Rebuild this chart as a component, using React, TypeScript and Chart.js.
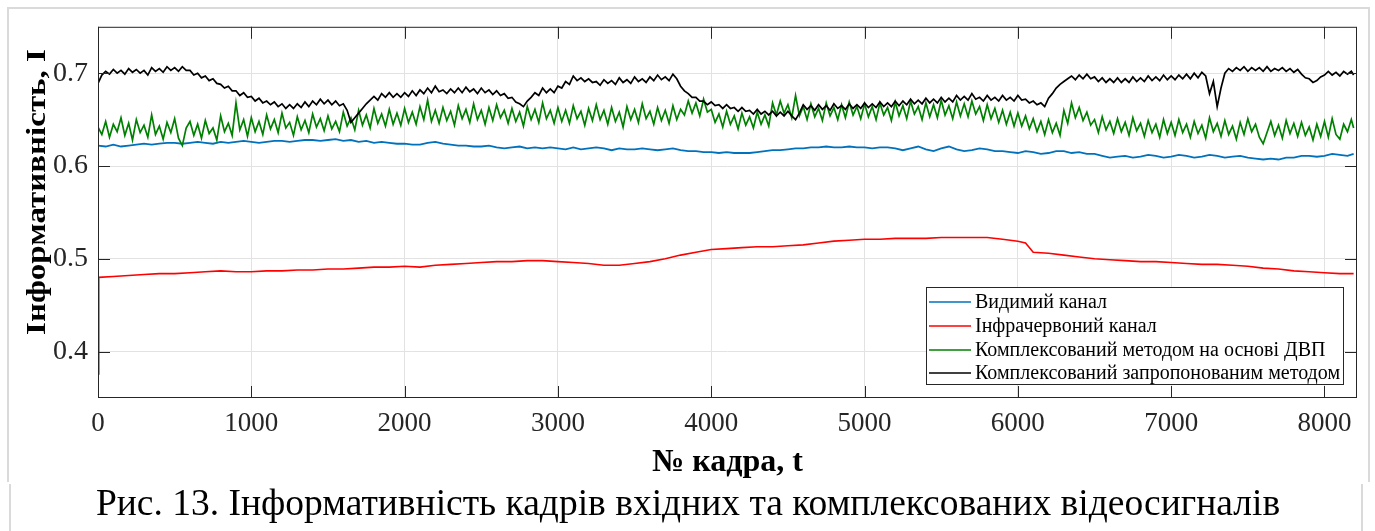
import React, { useEffect, useRef } from "react";
import { Chart, registerables } from "chart.js";

Chart.register(...registerables);

const FRAMES_25 = [
  0, 25, 50, 75, 100, 125, 150, 175, 200, 225, 250, 275, 300, 325, 350, 375, 400, 425, 450, 475, 500, 525, 550, 575, 600, 625, 650, 675, 700, 725, 750, 775, 800, 825, 850, 875, 900, 925, 950, 975,
  1000, 1025, 1050, 1075, 1100, 1125, 1150, 1175, 1200, 1225, 1250, 1275, 1300, 1325, 1350, 1375, 1400, 1425, 1450, 1475, 1500, 1525, 1550, 1575, 1600, 1625, 1650, 1675, 1700, 1725, 1750, 1775, 1800, 1825, 1850, 1875, 1900, 1925, 1950, 1975,
  2000, 2025, 2050, 2075, 2100, 2125, 2150, 2175, 2200, 2225, 2250, 2275, 2300, 2325, 2350, 2375, 2400, 2425, 2450, 2475, 2500, 2525, 2550, 2575, 2600, 2625, 2650, 2675, 2700, 2725, 2750, 2775, 2800, 2825, 2850, 2875, 2900, 2925, 2950, 2975,
  3000, 3025, 3050, 3075, 3100, 3125, 3150, 3175, 3200, 3225, 3250, 3275, 3300, 3325, 3350, 3375, 3400, 3425, 3450, 3475, 3500, 3525, 3550, 3575, 3600, 3625, 3650, 3675, 3700, 3725, 3750, 3775, 3800, 3825, 3850, 3875, 3900, 3925, 3950, 3975,
  4000, 4025, 4050, 4075, 4100, 4125, 4150, 4175, 4200, 4225, 4250, 4275, 4300, 4325, 4350, 4375, 4400, 4425, 4450, 4475, 4500, 4525, 4550, 4575, 4600, 4625, 4650, 4675, 4700, 4725, 4750, 4775, 4800, 4825, 4850, 4875, 4900, 4925, 4950, 4975,
  5000, 5025, 5050, 5075, 5100, 5125, 5150, 5175, 5200, 5225, 5250, 5275, 5300, 5325, 5350, 5375, 5400, 5425, 5450, 5475, 5500, 5525, 5550, 5575, 5600, 5625, 5650, 5675, 5700, 5725, 5750, 5775, 5800, 5825, 5850, 5875, 5900, 5925, 5950, 5975,
  6000, 6025, 6050, 6075, 6100, 6125, 6150, 6175, 6200, 6225, 6250, 6275, 6300, 6325, 6350, 6375, 6400, 6425, 6450, 6475, 6500, 6525, 6550, 6575, 6600, 6625, 6650, 6675, 6700, 6725, 6750, 6775, 6800, 6825, 6850, 6875, 6900, 6925, 6950, 6975,
  7000, 7025, 7050, 7075, 7100, 7125, 7150, 7175, 7200, 7225, 7250, 7275, 7300, 7325, 7350, 7375, 7400, 7425, 7450, 7475, 7500, 7525, 7550, 7575, 7600, 7625, 7650, 7675, 7700, 7725, 7750, 7775, 7800, 7825, 7850, 7875, 7900, 7925, 7950, 7975,
  8000, 8025, 8050, 8075, 8100, 8125, 8150, 8175, 8190,
];

const FRAMES_50 = [
  0, 50, 100, 150, 200, 250, 300, 350, 400, 450, 500, 550, 600, 650, 700, 750, 800, 850, 900, 950,
  1000, 1050, 1100, 1150, 1200, 1250, 1300, 1350, 1400, 1450, 1500, 1550, 1600, 1650, 1700, 1750, 1800, 1850, 1900, 1950,
  2000, 2050, 2100, 2150, 2200, 2250, 2300, 2350, 2400, 2450, 2500, 2550, 2600, 2650, 2700, 2750, 2800, 2850, 2900, 2950,
  3000, 3050, 3100, 3150, 3200, 3250, 3300, 3350, 3400, 3450, 3500, 3550, 3600, 3650, 3700, 3750, 3800, 3850, 3900, 3950,
  4000, 4050, 4100, 4150, 4200, 4250, 4300, 4350, 4400, 4450, 4500, 4550, 4600, 4650, 4700, 4750, 4800, 4850, 4900, 4950,
  5000, 5050, 5100, 5150, 5200, 5250, 5300, 5350, 5400, 5450, 5500, 5550, 5600, 5650, 5700, 5750, 5800, 5850, 5900, 5950,
  6000, 6050, 6100, 6150, 6200, 6250, 6300, 6350, 6400, 6450, 6500, 6550, 6600, 6650, 6700, 6750, 6800, 6850, 6900, 6950,
  7000, 7050, 7100, 7150, 7200, 7250, 7300, 7350, 7400, 7450, 7500, 7550, 7600, 7650, 7700, 7750, 7800, 7850, 7900, 7950,
  8000, 8050, 8100, 8150, 8190,
];

const RED_FRAMES = [
  0, 5, 100, 200, 300, 400, 500, 600, 700, 800, 900,
  1000, 1100, 1200, 1300, 1400, 1500, 1600, 1700, 1800, 1900,
  2000, 2100, 2200, 2300, 2400, 2500, 2600, 2700, 2800, 2900,
  3000, 3100, 3200, 3300, 3400, 3500, 3600, 3700, 3800, 3900,
  4000, 4100, 4200, 4300, 4400, 4500, 4600, 4700, 4800, 4900,
  5000, 5100, 5200, 5300, 5400, 5500, 5600, 5700, 5800, 5900,
  6000, 6050, 6100, 6200, 6300, 6400, 6500, 6600, 6700, 6800, 6900,
  7000, 7100, 7200, 7300, 7400, 7500, 7600, 7700, 7800, 7900,
  8000, 8100, 8190,
];

const X_TICKS = [0, 1000, 2000, 3000, 4000, 5000, 6000, 7000, 8000];
const Y_TICKS = [0.4, 0.5, 0.6, 0.7];

const VISIBLE = [
  0.622, 0.621, 0.623, 0.621, 0.622, 0.623, 0.624, 0.623, 0.624, 0.625, 0.625, 0.624, 0.625, 0.626, 0.625, 0.624, 0.626, 0.625, 0.626, 0.627,
  0.626, 0.625, 0.626, 0.627, 0.627, 0.626, 0.627, 0.628, 0.628, 0.627, 0.628, 0.629, 0.627, 0.628, 0.626, 0.627, 0.625, 0.626, 0.625, 0.624,
  0.624, 0.623, 0.623, 0.625, 0.626, 0.624, 0.623, 0.622, 0.622, 0.621, 0.621, 0.622, 0.620, 0.619, 0.620, 0.621, 0.619, 0.620, 0.619, 0.620,
  0.619, 0.618, 0.620, 0.618, 0.619, 0.620, 0.619, 0.617, 0.619, 0.618, 0.618, 0.619, 0.618, 0.617, 0.618, 0.619, 0.617, 0.616, 0.616, 0.615,
  0.615, 0.614, 0.615, 0.614, 0.614, 0.614, 0.615, 0.616, 0.617, 0.617, 0.618, 0.619, 0.619, 0.620, 0.620, 0.621, 0.620, 0.620, 0.621, 0.620,
  0.620, 0.619, 0.620, 0.620, 0.619, 0.617, 0.619, 0.621, 0.618, 0.616, 0.619, 0.621, 0.618, 0.616, 0.617, 0.619, 0.618, 0.616, 0.616, 0.615,
  0.614, 0.616, 0.615, 0.613, 0.614, 0.616, 0.616, 0.614, 0.615, 0.613, 0.613, 0.611, 0.609, 0.610, 0.611, 0.609, 0.610, 0.612, 0.611, 0.609,
  0.610, 0.612, 0.611, 0.609, 0.610, 0.612, 0.611, 0.609, 0.610, 0.611, 0.609, 0.608, 0.607, 0.608, 0.607, 0.609, 0.609, 0.611, 0.611, 0.610,
  0.611, 0.613, 0.612, 0.611, 0.613,
];

const INFRARED = [
  0.376, 0.480, 0.481, 0.482, 0.483, 0.484, 0.484, 0.485, 0.486, 0.487, 0.486,
  0.486, 0.487, 0.487, 0.488, 0.488, 0.489, 0.489, 0.490, 0.491, 0.491,
  0.492, 0.491, 0.493, 0.494, 0.495, 0.496, 0.497, 0.497, 0.498, 0.498,
  0.497, 0.496, 0.495, 0.493, 0.493, 0.495, 0.497, 0.500, 0.504, 0.507,
  0.510, 0.511, 0.512, 0.513, 0.513, 0.514, 0.515, 0.517, 0.519, 0.520,
  0.521, 0.521, 0.522, 0.522, 0.522, 0.523, 0.523, 0.523, 0.523, 0.521,
  0.519, 0.517, 0.507, 0.506, 0.504, 0.502, 0.500, 0.499, 0.498, 0.497, 0.497,
  0.496, 0.495, 0.494, 0.494, 0.493, 0.492, 0.490, 0.489, 0.487, 0.486,
  0.485, 0.484, 0.484,
];

const DWT_FUSED = [
  0.642, 0.634, 0.648, 0.631, 0.645, 0.637, 0.652, 0.633, 0.646, 0.628, 0.650, 0.636, 0.644, 0.631, 0.655, 0.634, 0.643, 0.629, 0.647, 0.636,
  0.651, 0.630, 0.622, 0.641, 0.648, 0.633, 0.645, 0.630, 0.649, 0.635, 0.641, 0.628, 0.654, 0.637, 0.646, 0.633, 0.668, 0.639, 0.650, 0.632,
  0.652, 0.637, 0.648, 0.634, 0.655, 0.640, 0.650, 0.636, 0.657, 0.641, 0.647, 0.633, 0.653, 0.639, 0.649, 0.636, 0.656, 0.642, 0.651, 0.638,
  0.654, 0.640, 0.648, 0.637, 0.658, 0.643, 0.652, 0.639, 0.660, 0.644, 0.655, 0.641, 0.662, 0.646, 0.656, 0.643, 0.661, 0.645, 0.657, 0.644,
  0.662, 0.647, 0.658, 0.645, 0.664, 0.650, 0.671, 0.648, 0.660, 0.646, 0.663, 0.649, 0.659, 0.644, 0.665, 0.651, 0.661, 0.647, 0.667, 0.650,
  0.660, 0.645, 0.663, 0.649, 0.666, 0.652, 0.660, 0.646, 0.662, 0.648, 0.658, 0.643, 0.664, 0.650, 0.661, 0.647, 0.668, 0.651, 0.660, 0.646,
  0.663, 0.648, 0.660, 0.646, 0.665, 0.651, 0.659, 0.644, 0.662, 0.649, 0.666, 0.650, 0.660, 0.645, 0.663, 0.648, 0.658, 0.642, 0.664, 0.650,
  0.661, 0.647, 0.667, 0.651, 0.659, 0.645, 0.663, 0.649, 0.660, 0.646, 0.665, 0.650, 0.661, 0.655, 0.670, 0.657, 0.668, 0.654, 0.672, 0.658,
  0.661, 0.647, 0.656, 0.642, 0.659, 0.645, 0.654, 0.640, 0.657, 0.644, 0.653, 0.641, 0.658, 0.645, 0.655, 0.643, 0.668, 0.655, 0.670, 0.657,
  0.666, 0.652, 0.676, 0.654, 0.664, 0.650, 0.667, 0.653, 0.662, 0.649, 0.668, 0.654, 0.663, 0.650, 0.666, 0.652, 0.669, 0.655, 0.664, 0.651,
  0.667, 0.653, 0.664, 0.650, 0.668, 0.655, 0.663, 0.649, 0.669, 0.654, 0.665, 0.651, 0.670, 0.656, 0.664, 0.650, 0.668, 0.653, 0.666, 0.652,
  0.671, 0.655, 0.665, 0.651, 0.669, 0.654, 0.667, 0.653, 0.670, 0.656, 0.664, 0.649, 0.666, 0.651, 0.662, 0.647, 0.660, 0.645, 0.658, 0.643,
  0.657, 0.643, 0.654, 0.640, 0.651, 0.637, 0.648, 0.634, 0.650, 0.636, 0.646, 0.633, 0.660, 0.646, 0.668, 0.652, 0.663, 0.649, 0.658, 0.644,
  0.650, 0.636, 0.653, 0.639, 0.648, 0.635, 0.651, 0.637, 0.647, 0.633, 0.652, 0.638, 0.646, 0.632, 0.649, 0.636, 0.645, 0.631, 0.650, 0.635,
  0.647, 0.633, 0.650, 0.636, 0.645, 0.631, 0.648, 0.635, 0.644, 0.630, 0.652, 0.637, 0.646, 0.632, 0.649, 0.634, 0.643, 0.629, 0.647, 0.634,
  0.651, 0.637, 0.645, 0.631, 0.624, 0.636, 0.648, 0.633, 0.644, 0.630, 0.649, 0.635, 0.646, 0.632, 0.647, 0.633, 0.642, 0.628, 0.645, 0.632,
  0.648, 0.631, 0.651, 0.634, 0.629, 0.645, 0.637, 0.650, 0.641,
];

const PROPOSED_FUSED = [
  0.689, 0.698, 0.702, 0.699, 0.704, 0.700, 0.703, 0.699, 0.705, 0.701, 0.704, 0.700, 0.703, 0.698, 0.706, 0.702, 0.705, 0.701, 0.707, 0.703,
  0.706, 0.702, 0.707, 0.703, 0.703, 0.698, 0.700, 0.695, 0.697, 0.692, 0.694, 0.689, 0.688, 0.684, 0.686, 0.681, 0.681, 0.676, 0.679, 0.674,
  0.675, 0.670, 0.673, 0.668, 0.670, 0.666, 0.669, 0.664, 0.667, 0.662, 0.666, 0.662, 0.667, 0.663, 0.669, 0.664, 0.670, 0.666, 0.672, 0.667,
  0.671, 0.666, 0.670, 0.665, 0.667, 0.660, 0.647, 0.652, 0.657, 0.662, 0.667, 0.671, 0.675, 0.671, 0.678, 0.674, 0.679, 0.674, 0.678, 0.674,
  0.679, 0.675, 0.681, 0.676, 0.682, 0.678, 0.684, 0.679, 0.686, 0.680, 0.682, 0.678, 0.683, 0.679, 0.684, 0.679, 0.685, 0.680, 0.683, 0.678,
  0.684, 0.679, 0.682, 0.677, 0.681, 0.676, 0.678, 0.673, 0.674, 0.669, 0.667, 0.664, 0.670, 0.674, 0.679, 0.676, 0.684, 0.679, 0.683, 0.679,
  0.686, 0.684, 0.691, 0.688, 0.697, 0.692, 0.695, 0.691, 0.694, 0.690, 0.691, 0.687, 0.693, 0.689, 0.692, 0.688, 0.695, 0.690, 0.693, 0.689,
  0.696, 0.691, 0.694, 0.690, 0.696, 0.692, 0.698, 0.693, 0.696, 0.692, 0.699, 0.694, 0.686, 0.681, 0.678, 0.674, 0.674, 0.670, 0.670, 0.666,
  0.669, 0.665, 0.666, 0.662, 0.666, 0.662, 0.663, 0.659, 0.663, 0.659, 0.660, 0.656, 0.661, 0.656, 0.659, 0.655, 0.659, 0.654, 0.658, 0.654,
  0.659, 0.654, 0.650, 0.657, 0.666, 0.661, 0.665, 0.660, 0.666, 0.661, 0.665, 0.660, 0.667, 0.662, 0.665, 0.661, 0.667, 0.662, 0.666, 0.662,
  0.668, 0.663, 0.667, 0.663, 0.669, 0.664, 0.668, 0.664, 0.670, 0.665, 0.670, 0.666, 0.672, 0.667, 0.671, 0.667, 0.673, 0.668, 0.672, 0.668,
  0.674, 0.669, 0.673, 0.669, 0.676, 0.671, 0.675, 0.671, 0.678, 0.672, 0.674, 0.670, 0.676, 0.671, 0.674, 0.670, 0.676, 0.671, 0.674, 0.670,
  0.676, 0.671, 0.672, 0.668, 0.670, 0.666, 0.668, 0.664, 0.673, 0.678, 0.684, 0.688, 0.691, 0.694, 0.697, 0.693, 0.698, 0.694, 0.699, 0.694,
  0.696, 0.691, 0.695, 0.690, 0.694, 0.690, 0.695, 0.690, 0.694, 0.690, 0.696, 0.691, 0.695, 0.691, 0.697, 0.692, 0.696, 0.692, 0.698, 0.693,
  0.697, 0.693, 0.698, 0.694, 0.699, 0.694, 0.700, 0.695, 0.701, 0.697, 0.678, 0.691, 0.664, 0.684, 0.700, 0.705, 0.702, 0.706, 0.703, 0.707,
  0.702, 0.706, 0.703, 0.706, 0.702, 0.707, 0.702, 0.705, 0.703, 0.706, 0.702, 0.705, 0.701, 0.704, 0.699, 0.695, 0.694, 0.690, 0.692, 0.696,
  0.698, 0.702, 0.698, 0.701, 0.697, 0.702, 0.699, 0.702, 0.698,
];

const SERIES_LABELS = [
  "Видимий канал",
  "Інфрачервоний канал",
  "Комплексований методом на основі ДВП",
  "Комплексований запропонованим методом",
];
const SERIES_COLORS = ["#0072BD", "#FF0000", "#008000", "#000000"];

const X_TITLE = "№ кадра, t";
const Y_TITLE = "Інформативність, І";
const CAPTION = "Рис. 13. Інформативність кадрів вхідних та комплексованих відеосигналів";

const X_MIN = 0;
const X_MAX = 8212;
const Y_MIN = 0.35;
const Y_MAX = 0.75;

const FONT = "'Liberation Serif', 'Times New Roman', serif";

function toPoints(xs: number[], ys: number[]) {
  return xs.map((x, i) => ({ x, y: ys[i] }));
}

const decorPlugin = {
  id: "decor",
  beforeDraw(chart: any) {
    const ctx = chart.ctx;
    ctx.save();
    ctx.fillStyle = "#ffffff";
    ctx.fillRect(0, 0, chart.width, chart.height);
    ctx.strokeStyle = "#dadada";
    ctx.lineWidth = 2;
    ctx.beginPath();
    ctx.moveTo(8, 482);
    ctx.lineTo(8, 8);
    ctx.lineTo(1369, 8);
    ctx.lineTo(1369, 482);
    ctx.moveTo(10, 484);
    ctx.lineTo(10, 531);
    ctx.moveTo(1362, 484);
    ctx.lineTo(1362, 531);
    ctx.stroke();
    ctx.restore();
  },
  afterDatasetsDraw(chart: any) {
    const { ctx, chartArea: a, scales } = chart;
    ctx.save();
    ctx.strokeStyle = "#262626";
    ctx.lineWidth = 1;
    ctx.strokeRect(a.left + 0.5, a.top + 0.5, a.right - a.left - 1, a.bottom - a.top - 1);
    const TL = 12;
    ctx.beginPath();
    scales.x.ticks.forEach((t: any) => {
      const px = Math.round(scales.x.getPixelForValue(t.value)) + 0.5;
      ctx.moveTo(px, a.bottom);
      ctx.lineTo(px, a.bottom - TL);
      ctx.moveTo(px, a.top);
      ctx.lineTo(px, a.top + TL);
    });
    scales.y.ticks.forEach((t: any) => {
      const py = Math.round(scales.y.getPixelForValue(t.value)) + 0.5;
      ctx.moveTo(a.left, py);
      ctx.lineTo(a.left + TL, py);
      ctx.moveTo(a.right, py);
      ctx.lineTo(a.right - TL, py);
    });
    ctx.stroke();

    // legend
    const lx = 926.5, ly = 287.5, lw = 417, lh = 97;
    ctx.fillStyle = "#ffffff";
    ctx.fillRect(lx, ly, lw, lh);
    ctx.strokeStyle = "#262626";
    ctx.strokeRect(lx, ly, lw, lh);
    const rows = [302, 326, 350, 373];
    ctx.font = `20px ${FONT}`;
    ctx.textAlign = "left";
    ctx.textBaseline = "middle";
    chart.data.datasets.forEach((ds: any, i: number) => {
      const y = rows[i];
      ctx.strokeStyle = ds.borderColor;
      ctx.lineWidth = 1.5;
      ctx.beginPath();
      ctx.moveTo(929, y);
      ctx.lineTo(971, y);
      ctx.stroke();
      ctx.fillStyle = "#000000";
      ctx.fillText(ds.label, 975, y + 1);
    });

    // axis titles
    ctx.fillStyle = "#000000";
    ctx.font = `bold 32px ${FONT}`;
    ctx.textAlign = "center";
    ctx.textBaseline = "alphabetic";
    ctx.fillText(X_TITLE, (a.left + a.right) / 2, 471);
    ctx.save();
    ctx.translate(45, 192);
    ctx.rotate(-Math.PI / 2);
    ctx.scale(1, 0.82);
    ctx.font = `bold 33px ${FONT}`;
    ctx.fillText(Y_TITLE, 0, 0);
    ctx.restore();

    // caption
    ctx.font = `37.5px ${FONT}`;
    ctx.textBaseline = "alphabetic";
    ctx.fillText(CAPTION, 688, 515);
    ctx.restore();
  },
};

export default function App() {
  const ref = useRef<HTMLCanvasElement | null>(null);

  useEffect(() => {
    document.body.style.margin = "0";
    const canvas = ref.current;
    if (!canvas) return;
    const seriesData = [
      toPoints(FRAMES_50, VISIBLE),
      toPoints(RED_FRAMES, INFRARED),
      toPoints(FRAMES_25, DWT_FUSED),
      toPoints(FRAMES_25, PROPOSED_FUSED),
    ];
    const widths = [1.8, 1.6, 1.7, 1.7];
    const chart = new Chart(canvas, {
      type: "line",
      data: {
        datasets: seriesData.map((d, i) => ({
          label: SERIES_LABELS[i],
          data: d,
          borderColor: SERIES_COLORS[i],
          backgroundColor: SERIES_COLORS[i],
          borderWidth: widths[i],
          pointRadius: 0,
          tension: 0,
          fill: false,
          order: 3 - i,
        })),
      },
      options: {
        responsive: false,
        animation: false,
        layout: { padding: { left: 0, right: 18, top: 18, bottom: 0 } },
        plugins: {
          legend: { display: false },
          tooltip: { enabled: false },
          title: { display: false },
        },
        scales: {
          x: {
            type: "linear",
            min: X_MIN,
            max: X_MAX,
            border: { display: false },
            grid: { color: "#e2e2e2", drawTicks: false },
            afterBuildTicks: (s: any) => {
              s.ticks = X_TICKS.map((v) => ({ value: v }));
            },
            ticks: {
              padding: 10,
              color: "#262626",
              font: { family: FONT, size: 27 },
              maxRotation: 0,
              autoSkip: false,
              callback: (v: any) => String(v),
            },
            afterFit: (s: any) => {
              s.height = 133;
            },
          },
          y: {
            type: "linear",
            min: Y_MIN,
            max: Y_MAX,
            border: { display: false },
            grid: { color: "#e2e2e2", drawTicks: false },
            afterBuildTicks: (s: any) => {
              s.ticks = Y_TICKS.map((v) => ({ value: v }));
            },
            ticks: {
              padding: 10,
              color: "#262626",
              font: { family: FONT, size: 28 },
              autoSkip: false,
              callback: (v: any) => Number(v).toFixed(1),
            },
            afterFit: (s: any) => {
              s.width = 98;
            },
          },
        },
      },
      plugins: [decorPlugin],
    });
    return () => chart.destroy();
  }, []);

  return (
    <div style={{ position: "absolute", left: 0, top: 0, width: 1375, height: 531 }}>
      <canvas ref={ref} width={1375} height={531} style={{ display: "block" }} />
    </div>
  );
}
